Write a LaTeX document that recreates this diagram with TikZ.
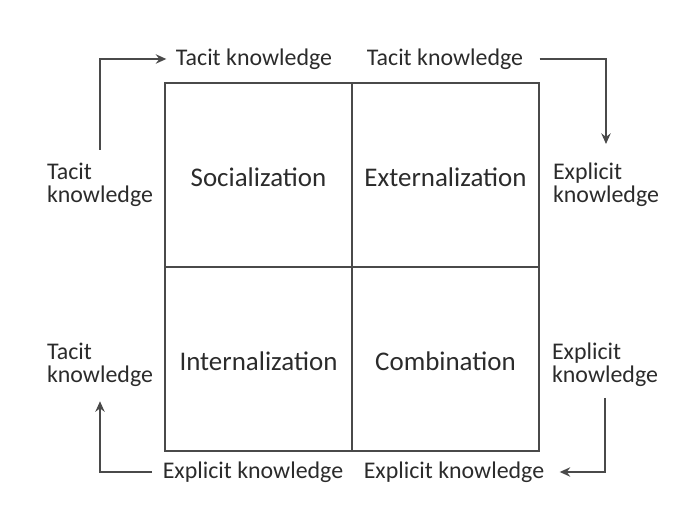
\documentclass[tikz,border=0pt]{standalone}
\usepackage{fontspec}
\setmainfont{Carlito}
\usetikzlibrary{arrows.meta,positioning}
\definecolor{ink}{HTML}{2B2B2B}
\definecolor{rule}{HTML}{4A4A4A}
\tikzset{
  cell/.style={draw=rule, line width=1.6pt, minimum width=5.61cm, minimum height=5.52cm, outer sep=0pt, font=\fontsize{23}{26}\selectfont, text=ink, text height=19pt},
  klabel/.style={align=left, inner sep=3pt, font=\fontsize{20.4}{20}\selectfont, text=ink},
  flow/.style={-{Stealth[length=9pt,width=8pt,inset=3pt]}, draw=rule, line width=1.5pt}
}
\begin{document}
\begin{tikzpicture}[x=0.03cm, y=-0.03cm]
    \useasboundingbox (0,0) rectangle (688,516);
        % the four modes
        \node[cell] (soc) at (258.5,175) {Socialization};
        \node[cell, right=0pt of soc] (ext) {Externalization};
        \node[cell, below=0pt of soc] (int) {Internalization};
        \node[cell, right=0pt of int] (com) {Combination};
        % knowledge labels
        \node[klabel] (tk1) at (254,59) {Tacit knowledge};
        \node[klabel] (tk2) at (445,59) {Tacit knowledge};
        \node[klabel] (tl1) at (100,185) {Tacit\\knowledge};
        \node[klabel] (el1) at (606,185) {Explicit\\knowledge};
        \node[klabel] (tl2) at (100,365) {Tacit\\knowledge};
        \node[klabel] (el2) at (605,365) {Explicit\\knowledge};
        \node[klabel] (ek1) at (253,472) {Explicit knowledge};
        \node[klabel] (ek2) at (454,472) {Explicit knowledge};
        % the spiral
        \draw[flow, shorten <=8pt, shorten >=5pt] (tl1.north) |- (tk1.west);
        \draw[flow, shorten <=11pt, shorten >=13pt] (tk2.east) -| (el1.north);
        \draw[flow, shorten <=6pt, shorten >=10pt] (el2.south) |- (ek2.east);
        \draw[flow, shorten <=6pt, shorten >=9pt] (ek1.west) -| (tl2.south);
    \end{tikzpicture}
\end{document}
